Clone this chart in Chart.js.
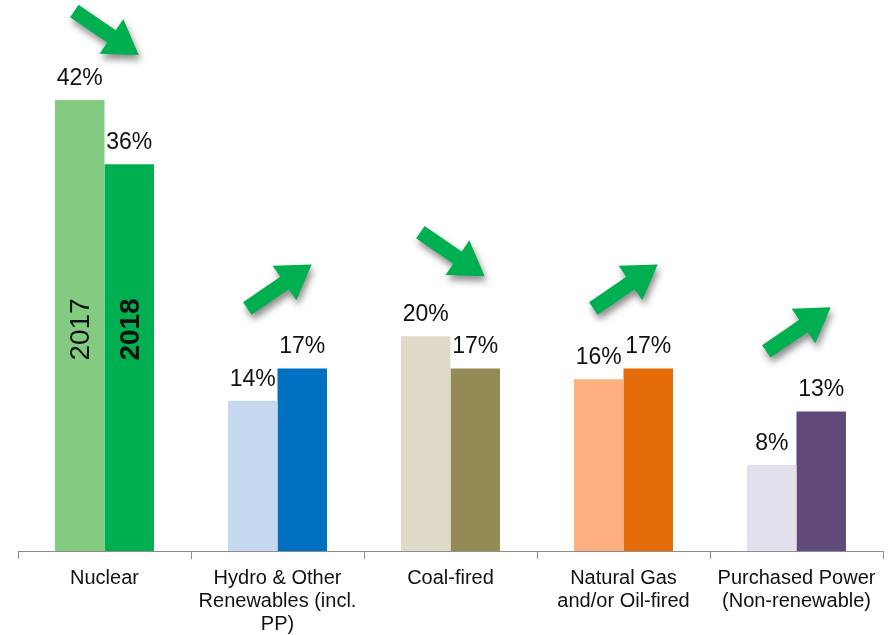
<!DOCTYPE html>
<html>
<head>
<meta charset="utf-8">
<script src="https://cdn.jsdelivr.net/npm/chart.js@4/dist/chart.umd.min.js"></script>
<style>
  html, body { margin: 0; padding: 0; background: #fff; }
  #wrap { width: 888px; height: 635px; }
</style>
</head>
<body>
<div id="wrap"><canvas id="mixChart"></canvas></div>
<script>
const categories = [
    "Nuclear",
    ["Hydro & Other", "Renewables (incl.", "PP)"],
    "Coal-fired",
    ["Natural Gas", "and/or Oil-fired"],
    ["Purchased Power", "(Non-renewable)"]
];
const seriesNames = ["2017", "2018"];
const values2017 = [42, 14, 20, 16, 8];
const values2018 = [36, 17, 17, 17, 13];
const colors2017 = ["#83CB81", "#C6D9F1", "#E0DBC9", "#FDB07F", "#E4DFEC"];
const colors2018 = ["#00B050", "#0070C0", "#948A54", "#E46C0A", "#604A7B"];

const fontFamily = "'Liberation Sans', Arial, sans-serif";
const textColor = "#111";

// arrow shape drawn around a centre point, pointing along the angle
const drawArrow = (ctx, cx, cy, angle) => {
    const len = 78, shaft = 15, headLen = 33, headW = 42;
    ctx.save();
    ctx.translate(cx, cy);
    ctx.rotate(angle);
    ctx.shadowColor = "rgba(0,0,0,0.45)";
    ctx.shadowBlur = 7;
    ctx.shadowOffsetX = 2;
    ctx.shadowOffsetY = 5;
    ctx.fillStyle = "#00B050";
    ctx.beginPath();
    ctx.moveTo(-len / 2, -shaft / 2);
    ctx.lineTo(len / 2 - headLen, -shaft / 2);
    ctx.lineTo(len / 2 - headLen, -headW / 2);
    ctx.lineTo(len / 2, 0);
    ctx.lineTo(len / 2 - headLen, headW / 2);
    ctx.lineTo(len / 2 - headLen, shaft / 2);
    ctx.lineTo(-len / 2, shaft / 2);
    ctx.closePath();
    ctx.fill();
    ctx.restore();
};

const decorations = {
    id: "decorations",
    afterDatasetsDraw(chart) {
        const ctx = chart.ctx;
        const yScale = chart.scales.y;
        const metaA = chart.getDatasetMeta(0);
        const metaB = chart.getDatasetMeta(1);

        // value labels
        ctx.save();
        ctx.font = "23px " + fontFamily;
        ctx.fillStyle = textColor;
        ctx.textAlign = "center";
        ctx.textBaseline = "alphabetic";
        [metaA, metaB].forEach((meta, di) => {
            meta.data.forEach((bar, i) => {
                const v = chart.data.datasets[di].data[i];
                ctx.fillText(v + "%", bar.x, bar.y - 15);
            });
        });
        ctx.restore();

        // series names written inside the Nuclear bars
        const base = yScale.getPixelForValue(0);
        const midY = (metaA.data[0].y + base) / 2 + 4;
        [metaA, metaB].forEach((meta, di) => {
            ctx.save();
            ctx.translate(meta.data[0].x + 2, midY);
            ctx.rotate(-Math.PI / 2);
            ctx.font = (di === 1 ? "bold " : "") + "28px " + fontFamily;
            ctx.fillStyle = textColor;
            ctx.textAlign = "center";
            ctx.textBaseline = "middle";
            ctx.fillText(seriesNames[di], 0, 0);
            ctx.restore();
        });

        // change arrows above each pair
        categories.forEach((c, i) => {
            const a = values2017[i], b = values2018[i];
            const cx = (metaA.data[i].x + metaB.data[i].x) / 2;
            const topY = yScale.getPixelForValue(Math.max(a, b));
            const angle = b < a ? 0.6 : -0.6;
            drawArrow(ctx, cx + 2, Math.max(topY - 82, 33), angle);
        });
    }
};

new Chart(document.getElementById("mixChart"), {
    type: "bar",
    data: {
        labels: categories,
        datasets: [{
            label: seriesNames[0],
            data: values2017,
            backgroundColor: colors2017,
            barPercentage: 1,
            categoryPercentage: 0.572
        }, {
            label: seriesNames[1],
            data: values2018,
            backgroundColor: colors2018,
            barPercentage: 1,
            categoryPercentage: 0.572
        }]
    },
    options: {
        responsive: true,
        maintainAspectRatio: false,
        animation: false,
        layout: {
            padding: { top: 14, left: 18, right: 5, bottom: -9 }
        },
        scales: {
            x: {
                border: { display: true, color: "#8c8c8c", width: 1 },
                grid: {
                    display: true,
                    offset: true,
                    drawOnChartArea: false,
                    drawTicks: true,
                    tickLength: 8,
                    color: "#8c8c8c"
                },
                ticks: {
                    color: textColor,
                    padding: 8,
                    maxRotation: 0,
                    autoSkip: false,
                    font: { family: fontFamily, size: 20, lineHeight: 1.15 }
                }
            },
            y: {
                display: false,
                min: 0,
                max: 50
            }
        },
        plugins: {
            legend: { display: false },
            tooltip: { enabled: false }
        }
    },
    plugins: [decorations]
});
</script>
</body>
</html>
